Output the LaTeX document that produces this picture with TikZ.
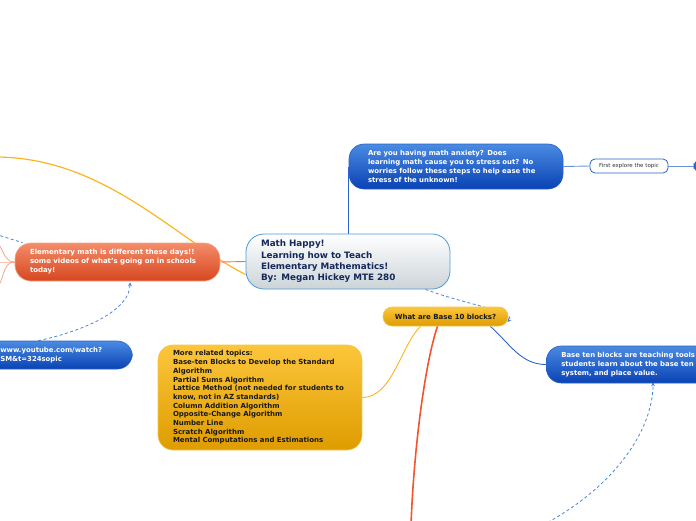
\documentclass[tikz,border=0pt]{standalone}
\usepackage{fontspec}
\setmainfont{DejaVu Sans}
\usetikzlibrary{backgrounds,arrows.meta}

\definecolor{bluetop}{HTML}{4A8BE2}
\definecolor{bluebot}{HTML}{0A42B4}
\definecolor{blueedge}{HTML}{2A62C8}
\definecolor{blueline}{HTML}{2A64CC}
\definecolor{bluedash}{HTML}{4A86DA}
\definecolor{orangetop}{HTML}{F48C6A}
\definecolor{orangebot}{HTML}{D6471F}
\definecolor{orangeline}{HTML}{F07050}
\definecolor{orangefan}{HTML}{F6A68A}
\definecolor{yellowtop}{HTML}{FCC63C}
\definecolor{yellowbot}{HTML}{DE9C00}
\definecolor{yellowedge}{HTML}{F7C648}
\definecolor{yellowline}{HTML}{F9B620}
\definecolor{redline}{HTML}{F2552E}
\definecolor{centreedge}{HTML}{4C9AD8}
\definecolor{centrebot}{HTML}{CCD4D8}
\definecolor{centretext}{HTML}{15285A}

\tikzset{
    topic/.style={rectangle, align=left, inner ysep=0pt},
    centre/.style={topic, rounded corners=18pt, draw=centreedge, line width=0.8pt,
        top color=white, bottom color=centrebot, text=centretext,
        font=\fontsize{8.8}{11.3}\selectfont\bfseries},
    bluetopic/.style={topic, rounded corners=15pt, draw=blueedge, line width=0.6pt,
        top color=bluetop, bottom color=bluebot, text=white,
        font=\fontsize{6.9}{9}\selectfont\bfseries},
    orangetopic/.style={topic, rounded corners=16pt, draw=orangetop!80!white, line width=0.6pt,
        top color=orangetop, bottom color=orangebot, text=white,
        font=\fontsize{7}{9}\selectfont\bfseries},
    yellowtopic/.style={topic, rounded corners=15pt, draw=yellowedge, line width=0.6pt,
        top color=yellowtop, bottom color=yellowbot, text=black!90,
        font=\fontsize{7}{8.7}\selectfont\bfseries},
    plain/.style={topic, rounded corners=5pt, draw=blueedge, line width=0.8pt,
        fill=white, text=black!80, font=\fontsize{5.5}{6}\selectfont},
    relation/.style={bluedash, line width=0.8pt, dash pattern=on 3pt off 2.5pt},
    tip/.style={-{Stealth[length=4pt,width=4pt]}}
}

\begin{document}
\begin{tikzpicture}[x=1pt, y=-1pt]

        \useasboundingbox (0,0) rectangle (696,520);

        % main topic
        \node[centre, text width=174pt, inner xsep=15pt, minimum height=55] (math) at (348,261.5)
            {Math Happy!\\Learning how to Teach\\Elementary Mathematics!\\By: Megan Hickey MTE 280};

        % upper branch
        \node[bluetopic, text width=176pt, inner xsep=19pt, minimum height=45] (anxiety) at (456,166.5)
            {Are you having math anxiety? Does\\learning math cause you to stress out? No\\worries follow these steps to help ease the\\stress of the unknown!};
        \node[plain, align=center, minimum width=78, minimum height=14] (explore) at (629,166) {First explore the topic};
        \node[bluetopic, minimum width=60, minimum height=24] (nextstep) at (724,166) {};

        % left branch
        \node[orangetopic, text width=175pt, inner xsep=15pt, minimum height=38] (videos) at (117.5,262)
            {Elementary math is different these days!!\\some videos of what's going on in schools\\today!};
        \node[bluetopic, anchor=west, text width=102pt, inner xsep=30pt, minimum height=28] (youtube) at (-30,355)
            {\fontsize{6.9}{8}\selectfont www.youtube.com/watch?\\SM\&t=324sopic};

        % lower branch
        \node[yellowtopic, rounded corners=9pt, align=center, minimum width=125, minimum height=19] (blocks) at (445.5,316.5)
            {What are Base 10 blocks?};
        \node[yellowtopic, text width=174pt, inner xsep=15pt, minimum height=105] (related) at (260,397.5)
            {More related topics:\\Base-ten Blocks to Develop the Standard\\Algorithm\\Partial Sums Algorithm\\Lattice Method (not needed for students to\\know, not in AZ standards)\\Column Addition Algorithm\\Opposite-Change Algorithm\\Number Line\\Scratch Algorithm\\Mental Computations and Estimations};
        \node[bluetopic, anchor=west, text width=200pt, inner xsep=15pt, minimum height=37] (baseten) at (546,364.5)
            {Base ten blocks are teaching tools\\students learn about the base ten\\system, and place value.};

        % ends leaving the page
        \coordinate (farleft) at (-5,157);
        \coordinate (dashleft) at (-5,234);
        \coordinate (fanup) at (-5,240);
        \coordinate (fanmid) at (-5,262);
        \coordinate (fandown) at (-5,290);
        \coordinate (redend) at (411,525);
        \coordinate (dashend) at (543,525);

        \begin{pgfonlayer}{background}

                \draw[yellowline, line width=1.2pt] ([yshift=-13pt]math.west) .. controls +(-70,-35) and +(110,0) .. (farleft);
                \draw[blueline, line width=0.9pt] (math.north) -- (math.north |- anxiety.center);
                \draw[orangeline, line width=0.9pt] (math.west) -- (videos.east);

                \draw[blueline!70, line width=0.9pt] (anxiety.east) -- (explore.west);
                \draw[blueline!70, line width=0.9pt] (explore.east) -- (nextstep.west);

                \foreach \fan/\bend in {fanup/-40, fanmid/0, fandown/40} {
                    \draw[orangefan, line width=0.8pt] (videos.west) to[out=180, in=\bend] (\fan);
                }

                \draw[relation] (dashleft) -- ([xshift=8pt]videos.north west);
                \draw[relation, tip] ([xshift=-13pt]youtube.north) .. controls +(55,-12) and +(0,25) .. ([xshift=12.5pt, yshift=-1pt]videos.south);

                \draw[relation, tip] ([xshift=-25pt]math.south east) .. controls +(40,15) and +(10,-10) .. ([xshift=-1pt, yshift=-5.5pt]blocks.east);
                \draw[yellowline, line width=0.9pt] ([xshift=-25pt]blocks.south) .. controls +(-20,20) and +(30,0) .. (related.east);
                \draw[redline, line width=1.6pt] ([xshift=-8pt]blocks.south) .. controls +(-12,35) and +(3,-80) .. (redend);
                \draw[blueline, line width=0.9pt] ([xshift=-18pt]blocks.south east) .. controls +(20,18) and +(-25,0) .. (baseten.west);
                \draw[relation, tip] (dashend) .. controls +(75,-40) and +(0,45) .. ([xshift=107pt, yshift=1pt]baseten.south west);

        \end{pgfonlayer}

\end{tikzpicture}
\end{document}
